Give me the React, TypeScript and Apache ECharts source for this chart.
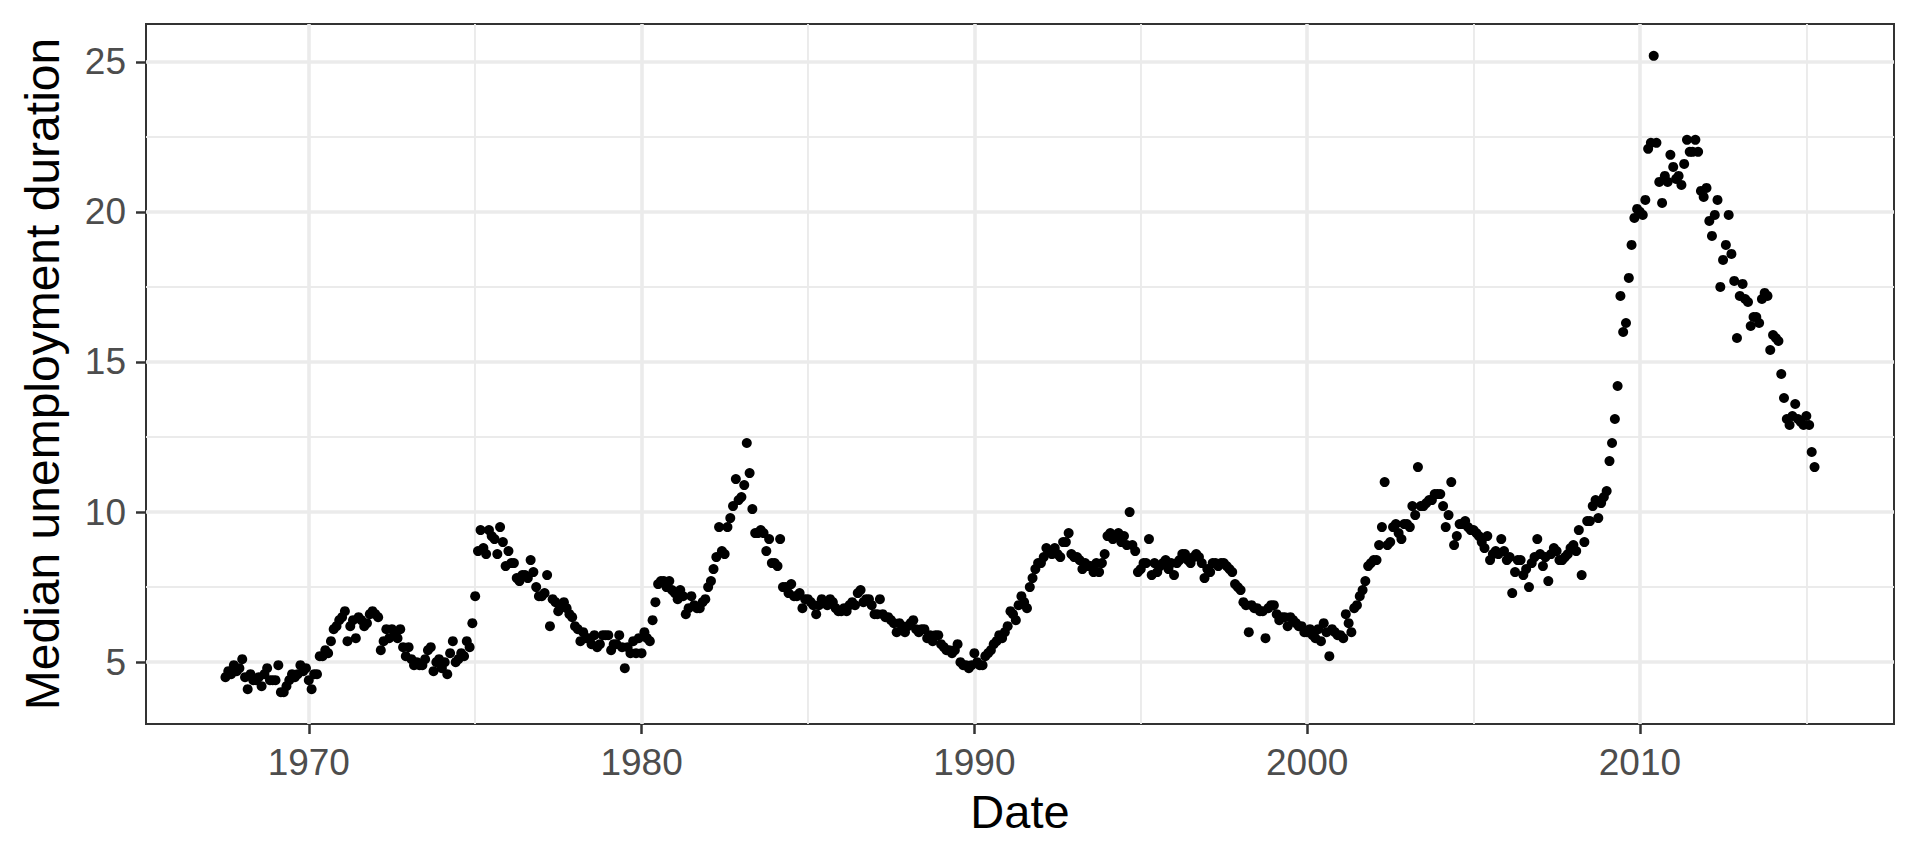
import { useEffect, useRef } from "react";
import * as echarts from "echarts";

// Monthly series starts July 1967
const firstYear = 1967;
const firstMonth = 7;

// Median unemployment duration (weeks), one row per year
const uempmed: number[] = [
  4.5, 4.7, 4.6, 4.9, 4.7, 4.8, // 1967 (Jul-Dec)
  5.1, 4.5, 4.1, 4.6, 4.4, 4.4, 4.5, 4.2, 4.6, 4.8, 4.4, 4.4, // 1968
  4.4, 4.9, 4.0, 4.0, 4.2, 4.4, 4.6, 4.5, 4.6, 4.9, 4.7, 4.8, // 1969
  4.4, 4.1, 4.6, 4.6, 5.2, 5.2, 5.4, 5.3, 5.7, 6.1, 6.2, 6.4, // 1970
  6.5, 6.7, 5.7, 6.2, 6.4, 5.8, 6.5, 6.4, 6.2, 6.3, 6.6, 6.7, // 1971
  6.6, 6.5, 5.4, 5.7, 6.1, 5.8, 6.1, 6.0, 5.8, 6.1, 5.5, 5.2, // 1972
  5.5, 5.1, 4.9, 5.0, 4.9, 4.9, 5.1, 5.4, 5.5, 4.7, 5.0, 5.1, // 1973
  4.8, 5.0, 4.6, 5.3, 5.7, 5.0, 5.1, 5.3, 5.2, 5.7, 5.5, 6.3, // 1974
  7.2, 8.7, 9.4, 8.8, 8.6, 9.4, 9.2, 9.1, 8.6, 9.5, 9.0, 8.2, // 1975
  8.7, 8.3, 8.3, 7.8, 7.7, 7.9, 7.9, 7.8, 8.4, 8.0, 7.5, 7.2, // 1976
  7.2, 7.3, 7.9, 6.2, 7.1, 7.0, 6.7, 6.9, 7.0, 6.8, 6.6, 6.5, // 1977
  6.2, 6.1, 5.7, 6.0, 5.8, 5.8, 5.6, 5.9, 5.5, 5.6, 5.9, 5.9, // 1978
  5.9, 5.4, 5.6, 5.6, 5.9, 5.5, 4.8, 5.5, 5.3, 5.7, 5.3, 5.8, // 1979
  5.3, 6.0, 5.8, 5.7, 6.4, 7.0, 7.6, 7.7, 7.7, 7.5, 7.7, 7.4, // 1980
  7.3, 7.1, 7.4, 7.2, 6.6, 6.8, 7.2, 6.9, 6.8, 6.8, 7.0, 7.1, // 1981
  7.5, 7.7, 8.1, 8.5, 9.5, 8.7, 8.6, 9.5, 9.8, 10.2, 11.1, 10.4, // 1982
  10.5, 10.9, 12.3, 11.3, 10.1, 9.3, 9.3, 9.4, 9.3, 8.7, 9.1, 8.3, // 1983
  8.3, 8.2, 9.1, 7.5, 7.5, 7.3, 7.6, 7.2, 7.2, 7.3, 6.8, 7.1, // 1984
  7.1, 7.0, 6.9, 6.6, 6.9, 7.1, 7.0, 6.9, 7.1, 7.0, 6.8, 6.7, // 1985
  6.7, 6.8, 6.7, 6.9, 7.0, 6.9, 7.3, 7.4, 7.0, 7.1, 7.1, 6.9, // 1986
  6.6, 6.6, 7.1, 6.6, 6.5, 6.5, 6.4, 6.3, 6.0, 6.3, 6.2, 6.0, // 1987
  6.2, 6.3, 6.4, 6.1, 6.0, 6.1, 6.1, 5.8, 5.9, 5.7, 5.9, 5.9, // 1988
  5.6, 5.5, 5.4, 5.4, 5.3, 5.4, 5.6, 5.0, 4.9, 4.9, 4.8, 4.9, // 1989
  5.3, 5.0, 4.9, 4.9, 5.2, 5.3, 5.4, 5.6, 5.7, 5.9, 5.8, 6.0, // 1990
  6.2, 6.7, 6.6, 6.4, 6.9, 7.2, 7.0, 6.8, 7.5, 7.8, 8.1, 8.3, // 1991
  8.3, 8.5, 8.8, 8.7, 8.6, 8.8, 8.6, 8.5, 9.0, 9.0, 9.3, 8.6, // 1992
  8.5, 8.5, 8.4, 8.1, 8.3, 8.2, 8.2, 8.0, 8.3, 8.0, 8.3, 8.6, // 1993
  9.2, 9.3, 9.1, 9.2, 9.3, 9.0, 9.2, 8.9, 10.0, 8.9, 8.7, 8.0, // 1994
  8.1, 8.3, 8.3, 9.1, 7.9, 8.3, 8.0, 8.2, 8.3, 8.4, 8.1, 8.3, // 1995
  7.9, 8.3, 8.4, 8.6, 8.6, 8.4, 8.3, 8.5, 8.6, 8.5, 8.3, 7.8, // 1996
  8.1, 8.0, 8.3, 8.3, 8.2, 8.3, 8.3, 8.2, 8.1, 8.0, 7.6, 7.5, // 1997
  7.4, 7.0, 6.9, 6.0, 6.9, 6.8, 6.8, 6.7, 6.7, 5.8, 6.8, 6.9, // 1998
  6.9, 6.6, 6.4, 6.5, 6.5, 6.2, 6.5, 6.4, 6.3, 6.2, 6.2, 6.0, // 1999
  6.0, 6.1, 5.9, 5.8, 6.1, 5.7, 6.3, 6.0, 5.2, 6.1, 6.0, 5.9, // 2000
  5.9, 5.8, 6.6, 6.3, 6.0, 6.8, 6.9, 7.2, 7.4, 7.7, 8.2, 8.3, // 2001
  8.4, 8.4, 8.9, 9.5, 11.0, 8.9, 9.0, 9.5, 9.6, 9.3, 9.1, 9.6, // 2002
  9.6, 9.5, 10.2, 9.9, 11.5, 10.2, 10.2, 10.3, 10.4, 10.4, 10.6, 10.6, // 2003
  10.6, 10.2, 9.5, 9.9, 11.0, 8.9, 9.2, 9.6, 9.6, 9.7, 9.5, 9.4, // 2004
  9.4, 9.3, 9.2, 9.0, 8.8, 9.2, 8.4, 8.6, 8.7, 8.6, 9.1, 8.7, // 2005
  8.4, 8.5, 7.3, 8.0, 8.4, 8.4, 7.9, 8.1, 7.5, 8.3, 8.5, 9.1, // 2006
  8.6, 8.2, 8.5, 7.7, 8.6, 8.8, 8.7, 8.4, 8.4, 8.5, 8.6, 8.8, // 2007
  8.9, 8.7, 9.4, 7.9, 9.0, 9.7, 9.7, 10.2, 10.4, 9.8, 10.3, 10.5, // 2008
  10.7, 11.7, 12.3, 13.1, 14.2, 17.2, 16.0, 16.3, 17.8, 18.9, 19.8, 20.1, // 2009
  20.0, 19.9, 20.4, 22.1, 22.3, 25.2, 22.3, 21.0, 20.3, 21.2, 21.0, 21.9, // 2010
  21.5, 21.1, 21.2, 20.9, 21.6, 22.4, 22.0, 22.0, 22.4, 22.0, 20.7, 20.5, // 2011
  20.8, 19.7, 19.2, 19.9, 20.4, 17.5, 18.4, 18.9, 19.9, 18.6, 17.7, 15.8, // 2012
  17.2, 17.6, 17.1, 17.0, 16.2, 16.5, 16.5, 16.3, 17.1, 17.3, 17.2, 15.4, // 2013
  15.9, 15.8, 15.7, 14.6, 13.8, 13.1, 12.9, 13.2, 13.6, 13.1, 13.0, 12.9, // 2014
  13.2, 12.9, 12.0, 11.5, // 2015 (Jan-Apr)
];

const xTicks = [1970, 1980, 1990, 2000, 2010];
const xMinor = [1975, 1985, 1995, 2005, 2015];
const yTicks = [5, 10, 15, 20, 25];
const yMinor = [7.5, 12.5, 17.5, 22.5];
const xTitle = "Date";
const yTitle = "Median unemployment duration";

const FONT = "'Liberation Sans', Arial, Helvetica, sans-serif";

function decimalYear(y: number, m0: number): number {
  const yy = y + Math.floor(m0 / 12);
  const mm = m0 % 12;
  const start = Date.UTC(yy, 0, 1);
  const end = Date.UTC(yy + 1, 0, 1);
  return yy + (Date.UTC(yy, mm, 1) - start) / (end - start);
}

export default function App() {
  const ref = useRef<HTMLDivElement>(null);

  useEffect(() => {
    const chart = echarts.init(ref.current!, undefined, { renderer: "svg" });
    const points = uempmed.map((v, i) => [decimalYear(firstYear, firstMonth - 1 + i), v]);
    const xs = points.map((p) => p[0]);
    const ys = points.map((p) => p[1]);
    const xLo = Math.min(...xs), xHi = Math.max(...xs);
    const yLo = Math.min(...ys), yHi = Math.max(...ys);
    const xPad = (xHi - xLo) * 0.05;
    const yPad = (yHi - yLo) * 0.05;

    const major = { color: "#EBEBEB", width: 3.6, type: "solid" };
    const minor = { color: "#EBEBEB", width: 1.9, type: "solid" };

    const gridLines = [
      ...yMinor.map((v) => ({ yAxis: v, lineStyle: minor })),
      ...xMinor.map((v) => ({ xAxis: v, lineStyle: minor })),
      ...yTicks.map((v) => ({ yAxis: v, lineStyle: major })),
      ...xTicks.map((v) => ({ xAxis: v, lineStyle: major })),
    ];

    chart.setOption({
      animation: false,
      textStyle: { fontFamily: FONT },
      grid: {
        left: 146,
        right: 26,
        top: 24,
        bottom: 140,
        show: true,
        borderColor: "#333333",
        borderWidth: 2,
        backgroundColor: "transparent",
      },
      xAxis: {
        type: "value",
        min: xLo - xPad,
        max: xHi + xPad,
        name: xTitle,
        nameLocation: "middle",
        nameGap: 64,
        nameTextStyle: { fontSize: 47, color: "#000000", fontFamily: FONT },
        axisLine: { show: false },
        splitLine: { show: false },
        axisTick: {
          show: true,
          length: 10,
          customValues: xTicks,
          lineStyle: { color: "#333333", width: 2.5 },
        },
        axisLabel: {
          customValues: xTicks,
          formatter: (v: number) => String(Math.round(v)),
          fontSize: 37,
          color: "#4D4D4D",
          margin: 20,
          fontFamily: FONT,
        },
      },
      yAxis: {
        type: "value",
        min: yLo - yPad,
        max: yHi + yPad,
        name: yTitle,
        nameLocation: "middle",
        nameGap: 80,
        nameTextStyle: { fontSize: 48, color: "#000000", fontFamily: FONT },
        axisLine: { show: false },
        splitLine: { show: false },
        axisTick: {
          show: true,
          length: 10,
          customValues: yTicks,
          lineStyle: { color: "#333333", width: 2.5 },
        },
        axisLabel: {
          customValues: yTicks,
          formatter: (v: number) => String(Math.round(v)),
          fontSize: 37,
          color: "#4D4D4D",
          margin: 20,
          fontFamily: FONT,
        },
      },
      series: [
        {
          type: "scatter",
          data: [],
          z: 1,
          silent: true,
          markLine: {
            silent: true,
            z: 1,
            symbol: ["none", "none"],
            label: { show: false },
            emphasis: { disabled: true },
            data: gridLines,
          },
        },
        {
          type: "scatter",
          data: points,
          z: 5,
          symbol: "circle",
          symbolSize: 10,
          itemStyle: { color: "#000000", opacity: 1 },
          silent: true,
        },
      ],
    });

    return () => chart.dispose();
  }, []);

  return (
    <div
      ref={ref}
      style={{ position: "absolute", left: 0, top: 0, width: 1920, height: 864, background: "#FFFFFF" }}
    />
  );
}
